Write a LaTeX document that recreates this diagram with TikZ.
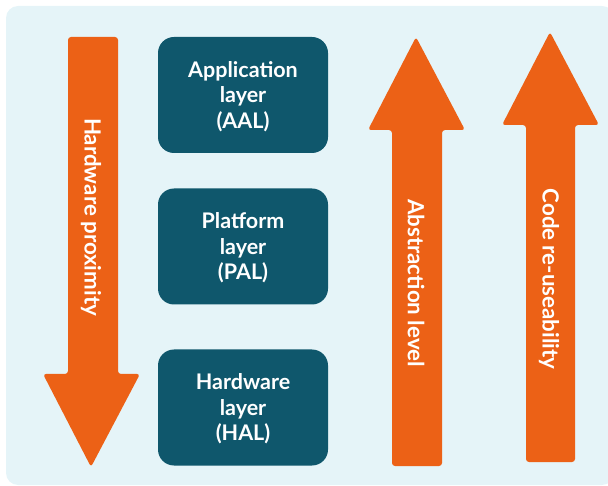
\documentclass[tikz,border=0pt]{standalone}
\usepackage{fontspec}
\setmainfont{Lato}
\definecolor{bgblue}{RGB}{229,244,248}
\definecolor{arroworange}{RGB}{236,97,22}
\definecolor{layerteal}{RGB}{15,87,108}
\begin{document}
\begin{tikzpicture}[x=1pt,y=-1pt,
layer/.style={fill=layerteal,rounded corners=16pt,minimum width=170pt,minimum height=116pt,text depth=0pt,text=white,align=center,font=\fontsize{21.5}{25.5}\selectfont\bfseries},
arrowtext/.style={text=white,rotate=-90,font=\fontsize{22.3}{25}\selectfont\bfseries}]
\useasboundingbox(0,0)rectangle(608,486);
\fill[bgblue,rounded corners=12pt](6,6)rectangle(614,485);
\fill[arroworange,rounded corners=3pt](68,37)--(118,37)--(118,374)--(140,374)--(91,467)--(43,374)--(68,374)--cycle;
\fill[arroworange,rounded corners=3pt](392,466)--(442,466)--(442,130)--(465,130)--(416,37)--(368,130)--(392,130)--cycle;
\fill[arroworange,rounded corners=3pt](526,462)--(575,462)--(575,125)--(599,125)--(550,32)--(502,125)--(526,125)--cycle;
\node[arrowtext](hwprox)at(91,217){Hardware proximity};
\node[arrowtext](abslvl)at(416,283){Abstraction level};
\node[arrowtext](reuse)at(549,279){Code re-useability};
\node[layer](aal)at(243,95){Application\\layer\\(AAL)};
\node[layer](pal)at(243,246.5){Platform\\layer\\(PAL)};
\node[layer](hal)at(243,407.5){Hardware\\layer\\(HAL)};
\end{tikzpicture}
\end{document}
